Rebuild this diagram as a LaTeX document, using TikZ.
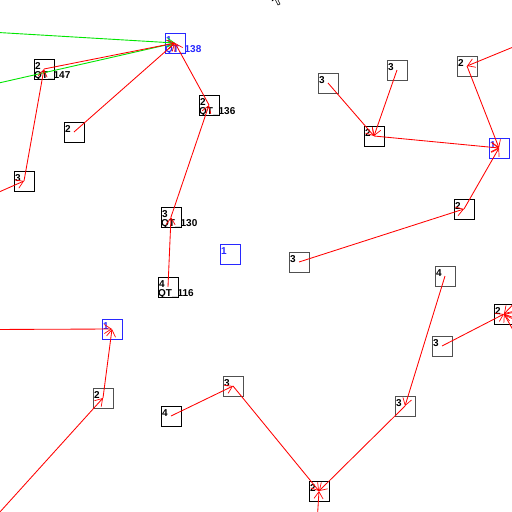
\documentclass[tikz,border=0pt]{standalone}
\usepackage{fontspec}
\setmainfont{Liberation Sans}
\usetikzlibrary{arrows.meta}
\definecolor{qred}{RGB}{255,0,0}
\definecolor{qgreen}{RGB}{0,230,0}
\definecolor{qblue}{RGB}{40,40,255}
\definecolor{qgray}{RGB}{80,80,80}
\tikzset{
  qb/.style={draw=qgray, line width=0.9pt, minimum size=20pt, inner sep=0pt, outer sep=0pt},
  qbk/.style={qb, draw=black},
  qbb/.style={qb, draw=qblue},
  lab/.style={font=\bfseries\fontsize{10}{10}\selectfont, inner sep=0pt, anchor=base west},
  edge/.style={draw=qred, line width=0.85pt, -{Straight Barb[length=7pt,width=9pt,line width=0.7pt]}},
  gedge/.style={draw=qgreen, line width=0.9pt, -{Straight Barb[length=7pt,width=9pt,line width=0.8pt]}},
}
\begin{document}
\begin{tikzpicture}[x=1pt,y=-1pt]
\useasboundingbox (0,0) rectangle (512,512);
\fill[white] (0,0) rectangle (512,512);
\clip (0,0) rectangle (512,512);

% boxes (centre coordinates)
\node[qbb] (b138) at (175,43) {};
\node[qbk] (b147) at (44,69) {};
\node[qbk] (b136) at (209,105) {};
\node[qbk] (c2a) at (74,132) {};
\node[qbk] (c3a) at (24,181) {};
\node[qbk] (b130) at (171,217) {};
\node[qbb] (u1) at (230,254) {};
\node[qbk] (b116) at (168,287) {};
\node[qb] (d3a) at (328,83) {};
\node[qb] (d3b) at (397,70) {};
\node[qb] (d2a) at (467,66) {};
\node[qbk] (d2b) at (374,136) {};
\node[qbb] (r1) at (499,148) {};
\node[qbk] (d2c) at (464,209) {};
\node[qb] (e3a) at (299,262) {};
\node[qb] (e4a) at (445,276) {};
\node[qbk] (e2a) at (504,314) {};
\node[qb] (e3b) at (442,346) {};
\node[qbb] (l1) at (112,329) {};
\node[qb] (l2) at (103,398) {};
\node[qb] (m3) at (233,386) {};
\node[qbk] (m4) at (171,416) {};
\node[qb] (e3c) at (405,406) {};
\node[qbk] (f2) at (319,491) {};

% labels
\node[lab, text=qblue] at ([shift={(1,10)}]b138.north west) {1};
\node[lab, text=qblue] at ([shift={(0,19)}]b138.north west) {QT\_138};
\foreach \n/\t in {b147/2,b136/2,b130/3,b116/4}{
  \node[lab] at ([shift={(1,10)}]\n.north west) {\t};
}
\node[lab] at ([shift={(0,19)}]b147.north west) {QT\_147};
\node[lab] at ([shift={(0,19)}]b136.north west) {QT\_136};
\node[lab] at ([shift={(0,19)}]b130.north west) {QT\_130};
\node[lab] at ([shift={(0,19)}]b116.north west) {QT\_116};
\foreach \n/\t in {c2a/2,c3a/3,d3a/3,d3b/3,d2a/2,d2b/2,d2c/2,e3a/3,e4a/4,e2a/2,e3b/3,l2/2,m3/3,m4/4,e3c/3,f2/2}{
  \node[lab] at ([shift={(1,10)}]\n.north west) {\t};
}
\foreach \n in {u1,r1,l1}{
  \node[lab, text=qblue] at ([shift={(1,10)}]\n.north west) {1};
}

% off-screen ends
\coordinate (g1) at (-10,32);
\coordinate (g2) at (-10,85);
\coordinate (o3) at (-10,196);
\coordinate (o4) at (-10,329.5);
\coordinate (o5) at (-10,523);
\coordinate (o6) at (540,36);
\coordinate (o7) at (316,540);
\coordinate (o8) at (540,276);
\coordinate (o9) at (545,330);
\coordinate (o10) at (530,360);

% green edges
\draw[gedge] (g1) -- (b138.center);
\draw[gedge] (g2) -- (b138.center);

% red edges
\draw[edge] (b147.center) -- (b138.center);
\draw[edge] (c2a.center) -- (b138.center);
\draw[edge] (b136.center) -- (b138.center);
\draw[edge] (b130.center) -- (b136.center);
\draw[edge] (b116.center) -- (b130.center);
\draw[edge] (c3a.center) -- (b147.center);
\draw[edge] (o3) -- (c3a.center);
\draw[edge] (d3a.center) -- (d2b.center);
\draw[edge] (d3b.center) -- (d2b.center);
\draw[edge] (d2b.center) -- (r1.center);
\draw[edge] (d2a.center) -- (r1.center);
\draw[edge] (o6) -- (d2a.center);
\draw[edge] (d2c.center) -- (r1.center);
\draw[edge] (e3a.center) -- (d2c.center);
\draw[edge] (e4a.center) -- (e3c.center);
\draw[edge] (e3c.center) -- (f2.center);
\draw[edge] (m3.center) -- (f2.center);
\draw[edge] (m4.center) -- (m3.center);
\draw[edge] (o7) -- (f2.center);
\draw[edge] (e3b.center) -- (e2a.center);
\draw[edge] (o8) -- (e2a.center);
\draw[edge] (o9) -- (e2a.center);
\draw[edge] (o10) -- (e2a.center);
\draw[edge] (o4) -- (l1.center);
\draw[edge] (l2.center) -- (l1.center);
\draw[edge] (o5) -- (l2.center);

% mouse cursor fragment
\draw[black, line width=0.5pt, fill=white] (272,-8) -- (272,1) -- (275,-1) -- (278,5) -- (280,4) -- (277,-2) -- (281,-2) -- cycle;
\end{tikzpicture}
\end{document}
